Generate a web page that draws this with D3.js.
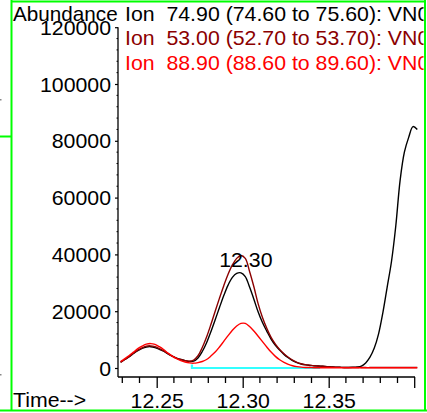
<!DOCTYPE html>
<html><head><meta charset="utf-8">
<script src="https://cdn.jsdelivr.net/npm/d3@7"></script>
<style>
html,body{margin:0;padding:0;background:#fff;}
svg{display:block;font-family:"Liberation Sans",Arial,Helvetica,sans-serif;}
</style></head>
<body>
<script>
// ---- data ----
const times = [12.2290,12.2315,12.2340,12.2365,12.2390,12.2415,12.2440,12.2465,12.2490,12.2515,
  12.2540,12.2565,12.2590,12.2615,12.2640,12.2665,12.2690,12.2715,12.2740,12.2765,
  12.2790,12.2815,12.2840,12.2865,12.2890,12.2915,12.2940,12.2965,12.2990,12.3015,
  12.3040,12.3065,12.3090,12.3115,12.3140,12.3165,12.3190,12.3215,12.3240,12.3265,
  12.3290,12.3315,12.3340,12.3365,12.3390,12.3415,12.3440,12.3465,12.3490,12.3515,
  12.3540,12.3565,12.3590,12.3615,12.3640,12.3665,12.3690,12.3715,12.3740,12.3765,
  12.3790,12.3815,12.3840,12.3865,12.3890,12.3915,12.3940,12.3965,12.3990,12.4015];
const ion749 = [2100,3000,4000,5100,6100,6900,7400,7500,7200,6600,
  5900,5000,4200,3500,3000,2600,2300,2400,3500,5800,
  8900,12800,17000,21300,25500,29200,31900,33300,33500,32200,
  28500,24200,19700,16000,13000,10200,8000,6300,4800,3600,
  2600,1900,1400,1100,900,800,700,600,500,400,
  300,250,200,200,250,350,700,1800,3800,7000,
  12000,19500,28500,37500,50000,66000,76000,81200,85000,84000];
const ion530 = [2000,3000,4000,5200,6300,7100,7700,7800,7500,6800,
  6000,5100,4200,3500,3000,2600,2400,2800,4300,7200,
  10900,15300,20000,24600,29000,33000,36300,38600,39600,38600,
  34000,28600,22600,17800,14000,10800,8400,6500,5000,3800,
  2800,2000,1500,1200,1000,800,700,600,500,400,
  300,250,200,200,200,200,200,150,150,150,
  150,150,150,150,150,150,150,150,150,150];
const ion889 = [2300,3300,4400,5600,6800,7700,8400,8600,8300,7500,
  6500,5300,4200,3300,2600,2100,1800,1700,1900,2300,
  3000,4200,5600,7400,9400,11400,13300,14800,15700,15700,
  14600,13000,11200,9300,7400,5600,4100,2900,2000,1300,
  800,500,300,200,150,100,100,100,100,100,
  100,100,100,100,100,100,100,100,100,100,
  100,100,100,100,100,100,100,100,100,100];
const baselineT = [12.2705, 12.2705, 12.3450];
const baselineV = [1200, 0, 0];
const yTicks = [0,20000,40000,60000,80000,100000,120000];
const xTicks = [12.25,12.30,12.35];
const legendLines = ["Ion  74.90 (74.60 to 75.60): VN0","Ion  53.00 (52.70 to 53.70): VN0","Ion  88.90 (88.60 to 89.60): VN0"];
const seriesColors = ["#000000","#8b0000","#ff0000"];
const peakLabel = {t:12.2995, v:39600, text:"12.30"};

// ---- drawing ----
const W=427,H=413, SX=1.065;
function stretch(sel, ax, s){ // horizontal stretch about anchor x
  sel.attr("transform",`translate(${ax},0) scale(${s||SX},1) translate(${-ax},0)`);
}
const svg=d3.select("body").append("svg").attr("width",W).attr("height",H);
svg.append("rect").attr("width",W).attr("height",H).attr("fill","#fff");
const defs=svg.append("defs");
defs.append("clipPath").attr("id","frameclip").append("rect").attr("x",12).attr("y",0).attr("width",411.5).attr("height",H);

const x=d3.scaleLinear().domain([12.2275,12.4]).range([118,414.7]);
const y=d3.scaleLinear().domain([0,120000]).range([368,27.2]);
const axisY=377;

// frame
const g0=svg.append("g").attr("fill","none").attr("stroke","#00ff00").attr("stroke-width",2);
g0.append("line").attr("x1",11.5).attr("x2",11.5).attr("y1",0).attr("y2",411);
g0.append("line").attr("x1",11.5).attr("x2",426).attr("y1",1.5).attr("y2",1.5);
g0.append("line").attr("x1",425).attr("x2",425).attr("y1",0).attr("y2",411);
g0.append("line").attr("x1",0).attr("x2",427).attr("y1",410.5).attr("y2",410.5);
g0.append("line").attr("x1",0).attr("x2",11).attr("y1",136.5).attr("y2",136.5);
svg.append("rect").attr("x",0).attr("y",99).attr("width",1.5).attr("height",1.5).attr("fill","#888");
svg.append("rect").attr("x",0).attr("y",374).attr("width",1.5).attr("height",1.5).attr("fill","#888");

// y axis
const yAxis=d3.axisLeft(y).tickValues(yTicks).tickSize(3).tickSizeOuter(0).tickPadding(4).tickFormat(d3.format("d"));
const gy=svg.append("g").attr("transform","translate(118,0)").call(yAxis);
gy.select(".domain").attr("d",`M0,${y(120000)}V${axisY}`).attr("stroke","#000").attr("stroke-width",1.3);
gy.selectAll(".tick text").attr("font-size",20).attr("fill","#000").attr("font-family","Liberation Sans, Arial, sans-serif").attr("dy","0.35em")
  .each(function(){ const t=d3.select(this); stretch(t, +t.attr("x")); });
gy.selectAll(".tick line").attr("stroke","#000").attr("stroke-width",1.2);
const yMinor=d3.range(0,120001,4000).filter(v=>v%20000!==0);
gy.selectAll(".ymin").data(yMinor).join("line").attr("class","ymin")
  .attr("x1",-1.5).attr("x2",0).attr("y1",d=>y(d)).attr("y2",d=>y(d)).attr("stroke","#000").attr("stroke-width",1);

// x axis
const xAxis=d3.axisBottom(x).tickValues(xTicks).tickSize(11).tickSizeOuter(0).tickPadding(5).tickFormat(d3.format(".2f"));
const gx=svg.append("g").attr("transform",`translate(0,${axisY})`).call(xAxis);
gx.select(".domain").attr("d",`M118,0H415`).attr("stroke","#000").attr("stroke-width",1.3);
gx.selectAll(".tick text").attr("font-size",20).attr("fill","#000").attr("font-family","Liberation Sans, Arial, sans-serif").attr("dy","0.75em")
  .each(function(){ stretch(d3.select(this), 0); });
gx.selectAll(".tick line").attr("stroke","#000").attr("stroke-width",1.3);
const xMinor=[12.23,12.24,12.26,12.27,12.28,12.29,12.31,12.32,12.33,12.34,12.36,12.37,12.38,12.39];
gx.selectAll(".xmin").data(xMinor).join("line").attr("class","xmin")
  .attr("x1",d=>x(d)).attr("x2",d=>x(d)).attr("y1",0).attr("y2",6).attr("stroke","#000").attr("stroke-width",1.3);
gx.append("line").attr("x1",x(12.40)).attr("x2",x(12.40)).attr("y1",0).attr("y2",11).attr("stroke","#000").attr("stroke-width",1.3);

// labels
stretch(svg.append("text").attr("x",13).attr("y",21).attr("font-size",20).text("Abundance"),13,1.035);
stretch(svg.append("text").attr("x",13).attr("y",407).attr("font-size",20).text("Time-->"),13);

// baseline (cyan)
const line=d3.line().x(d=>x(d[0])).y(d=>y(d[1]));
svg.append("path").datum(baselineT.map((t,i)=>[t,baselineV[i]])).attr("d",line)
  .attr("fill","none").attr("stroke","#33ffff").attr("stroke-width",2.2);

// series
const curve=d3.line().x(d=>x(d[0])).y(d=>y(d[1])).curve(d3.curveCatmullRom.alpha(0.5));
const seriesList=[ion749,ion530,ion889];
seriesList.forEach((vals,i)=>{
  svg.append("path").datum(times.map((t,j)=>[t,vals[j]])).attr("d",curve)
    .attr("fill","none").attr("stroke",seriesColors[i]).attr("stroke-width",1.4).attr("stroke-linejoin","round");
});

// peak label
const px=x(peakLabel.t)+4;
stretch(svg.append("text").attr("x",px).attr("y",y(peakLabel.v)+11).attr("text-anchor","middle").attr("font-size",20).text(peakLabel.text),px);

// legend
const lg=svg.append("g").attr("clip-path","url(#frameclip)");
legendLines.forEach((s,i)=>{
  stretch(lg.append("text").attr("x",125).attr("y",21+i*24.5).attr("font-size",20).attr("fill",seriesColors[i])
    .style("white-space","pre").attr("xml:space","preserve").text(s),125);
});
</script>
</body></html>
